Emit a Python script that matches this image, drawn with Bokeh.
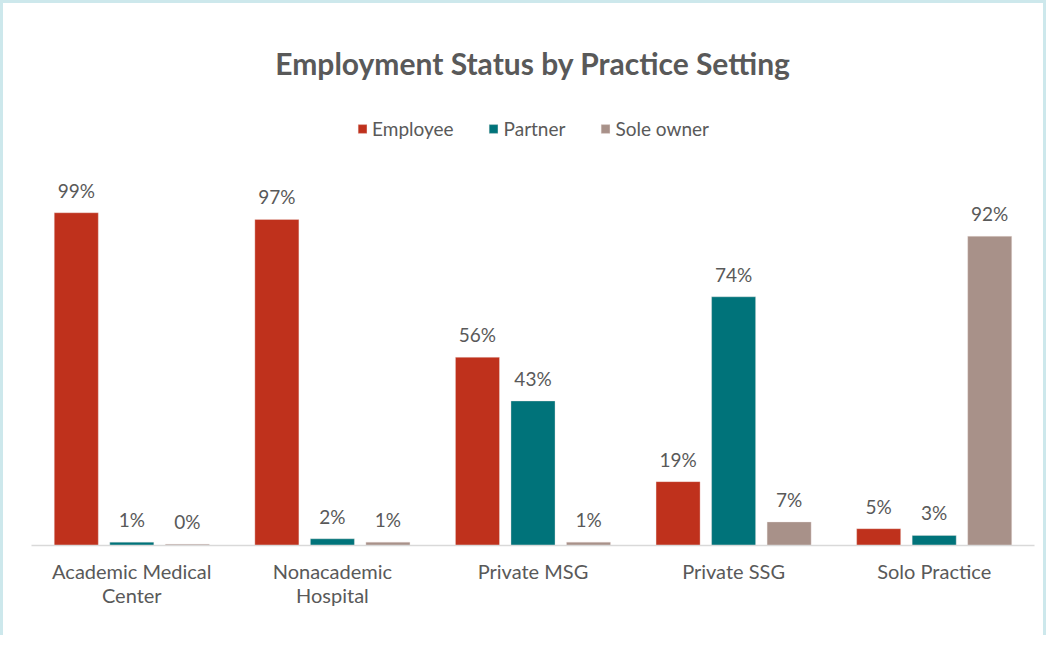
from bokeh.plotting import figure
from bokeh.models import ColumnDataSource, FactorRange, Range1d, LabelSet, Label, Legend, LegendItem
from bokeh.transform import dodge
from bokeh.embed import file_html
from bokeh.resources import INLINE
from bokeh.core.properties import value

categories = ["Academic Medical\nCenter", "Nonacademic\nHospital", "Private MSG", "Private SSG", "Solo Practice"]
series = ["Employee", "Partner", "Sole owner"]
employee = [99, 97, 56, 19, 5]
partner = [1, 2, 43, 74, 3]
sole_owner = [0.4, 1, 1, 7, 92]
colors = ["#BF311C", "#00737A", "#A89189"]

FONT = "Lato"
TXT = "#595959"

src = ColumnDataSource(data=dict(
    cat=categories,
    Employee=employee,
    Partner=partner,
    Sole=sole_owner,
    Employee_lbl=[f"{round(v)}%" for v in employee],
    Partner_lbl=[f"{round(v)}%" for v in partner],
    Sole_lbl=[f"{round(v)}%" for v in sole_owner],
))

p = figure(x_range=FactorRange(factors=categories, range_padding=0),
           y_range=Range1d(0, 156.5),
           width=1046, height=635, output_backend="svg", toolbar_location=None,
           min_border_left=28, min_border_right=15, min_border_top=16, min_border_bottom=93)
p.styles = {"border-top": "3px solid #CDE8EC", "border-left": "3px solid #CDE8EC",
            "border-right": "3px solid #CDE8EC"}

offsets = [-0.2768, 0.0, 0.2768]
cols = ["Employee", "Partner", "Sole"]
renderers = []
for col, off, c in zip(cols, offsets, colors):
    r = p.vbar(x=dodge("cat", off, range=p.x_range), top=col, width=0.2195, source=src,
               fill_color=c, line_color="#F2E6E3", line_width=0.6, line_alpha=0.6)
    renderers.append(r)
    p.add_layout(LabelSet(x=dodge("cat", off, range=p.x_range), y=col, text=col + "_lbl",
                          source=src, y_offset=15, text_align="center",
                          text_baseline="alphabetic", text_font=value(FONT),
                          text_font_size="19px", text_color=TXT))

legend = Legend(items=[LegendItem(label=s, renderers=[r]) for s, r in zip(series, renderers)],
                orientation="horizontal", location="top_center", margin=98, padding=4,
                spacing=34, glyph_width=11, glyph_height=11, label_standoff=5,
                label_text_font=FONT, label_text_font_size="19px", label_text_color=TXT,
                border_line_color=None, background_fill_alpha=0)
p.add_layout(legend, "center")

p.add_layout(Label(x=2.5, y=143.6, text="Employment Status by Practice Setting",
                   text_align="center", text_baseline="middle", text_font=FONT,
                   text_font_size="30px", text_font_style="bold", text_color=TXT))

p.yaxis.visible = False
p.xgrid.grid_line_color = None
p.ygrid.grid_line_color = None
p.outline_line_color = None
p.xaxis.axis_line_color = "#D9D9D9"
p.xaxis.axis_line_width = 1.5
p.xaxis.major_tick_line_color = None
p.xaxis.minor_tick_line_color = None
p.xaxis.major_label_standoff = 7
p.xaxis.major_label_text_font = FONT
p.xaxis.major_label_text_font_size = "20px"
p.xaxis.major_label_text_color = TXT
p.xaxis.major_label_text_line_height = 1.0

open("out.html", "w").write(file_html(p, INLINE))
